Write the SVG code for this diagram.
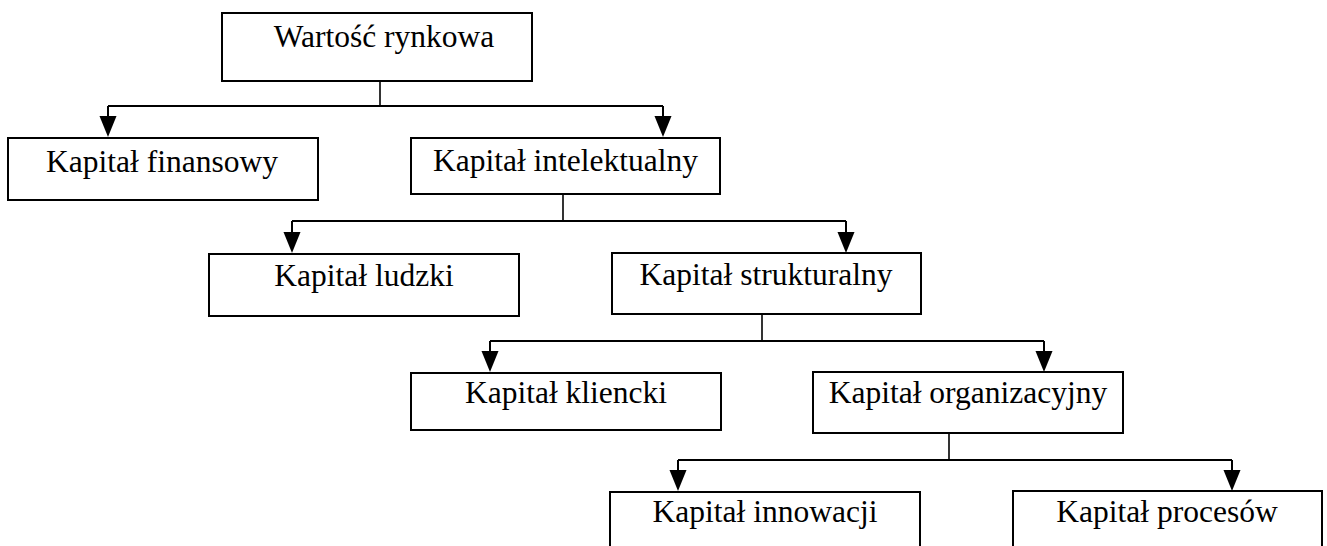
<svg xmlns="http://www.w3.org/2000/svg" xmlns:xlink="http://www.w3.org/1999/xlink" width="1327" height="546" viewBox="0 0 1327 546">
  <style>
    .box { fill: #ffffff; stroke: #000000; stroke-width: 2; }
    .lbl { font-family: "Liberation Serif", "Times New Roman", serif; font-size: 31.5px; fill: #000000; text-anchor: middle; }
    .ln { fill: none; stroke: #000000; stroke-width: 2; }
    .stem { fill: none; stroke: #000000; stroke-width: 1.6; }
    .ah { fill: #000000; stroke: none; }
  </style>
  <defs>
    <path id="ah" class="ah" d="M-8.5,-21 L8.5,-21 L0,0 Z"/>
  </defs>
  <rect width="1327" height="546" fill="#ffffff"/>

  <g id="connectors">
    <path class="stem" d="M380,81 V106"/>
    <path class="ln" d="M108,106 H663 M108,106 V117 M663,106 V117"/>
    <use xlink:href="#ah" href="#ah" x="108" y="137"/>
    <use xlink:href="#ah" href="#ah" x="663" y="137"/>

    <path class="stem" d="M563,194 V221"/>
    <path class="ln" d="M292,221 H846 M292,221 V232 M846,221 V232"/>
    <use xlink:href="#ah" href="#ah" x="292" y="253"/>
    <use xlink:href="#ah" href="#ah" x="846" y="253"/>

    <path class="stem" d="M762,314 V341"/>
    <path class="ln" d="M490,341 H1044 M490,341 V352 M1044,341 V352"/>
    <use xlink:href="#ah" href="#ah" x="490" y="372"/>
    <use xlink:href="#ah" href="#ah" x="1044" y="372"/>

    <path class="stem" d="M949,433 V460"/>
    <path class="ln" d="M678,460 H1232 M678,460 V471 M1232,460 V471"/>
    <use xlink:href="#ah" href="#ah" x="678" y="491"/>
    <use xlink:href="#ah" href="#ah" x="1232" y="491"/>
  </g>

  <g id="wartosc-rynkowa">
    <rect class="box" x="222" y="13" width="310" height="68"/>
    <text class="lbl" x="384" y="47">Wartość rynkowa</text>
  </g>
  <g id="kapital-finansowy">
    <rect class="box" x="8" y="138" width="310" height="62"/>
    <text class="lbl" x="162" y="172">Kapitał finansowy</text>
  </g>
  <g id="kapital-intelektualny">
    <rect class="box" x="411" y="138" width="309" height="56"/>
    <text class="lbl" x="565.5" y="171">Kapitał intelektualny</text>
  </g>
  <g id="kapital-ludzki">
    <rect class="box" x="209" y="254" width="310" height="62"/>
    <text class="lbl" x="364" y="286">Kapitał ludzki</text>
  </g>
  <g id="kapital-strukturalny">
    <rect class="box" x="612" y="253" width="309" height="61"/>
    <text class="lbl" x="766" y="285">Kapitał strukturalny</text>
  </g>
  <g id="kapital-kliencki">
    <rect class="box" x="411" y="373" width="310" height="57"/>
    <text class="lbl" x="566" y="403">Kapitał kliencki</text>
  </g>
  <g id="kapital-organizacyjny">
    <rect class="box" x="813" y="372" width="310" height="61"/>
    <text class="lbl" x="968" y="403">Kapitał organizacyjny</text>
  </g>
  <g id="kapital-innowacji">
    <rect class="box" x="610" y="492" width="310" height="70"/>
    <text class="lbl" x="765" y="522">Kapitał innowacji</text>
  </g>
  <g id="kapital-procesow">
    <rect class="box" x="1013" y="491" width="309" height="70"/>
    <text class="lbl" x="1167" y="522">Kapitał procesów</text>
  </g>
</svg>
